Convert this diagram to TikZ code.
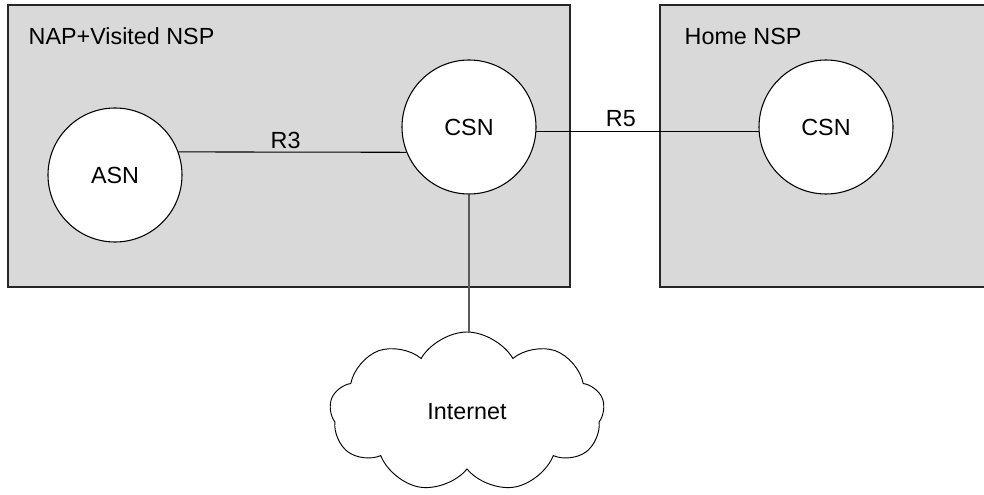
\documentclass[tikz,border=0pt]{standalone}
\usepackage{fontspec}
\setmainfont{Liberation Sans}
\usetikzlibrary{shapes.symbols}
\definecolor{boxgray}{RGB}{217,217,217}
\definecolor{linkgray}{RGB}{90,90,90}
\tikzset{
	nspbox/.style={draw=black!85, line width=1.2pt, fill=boxgray},
	entity/.style={circle, draw, fill=white, line width=0.8pt, minimum size=100.5pt, inner sep=0pt},
	net/.style={cloud, cloud puffs=9, cloud puff arc=120, aspect=1.7, draw, fill=white, line width=0.7pt, minimum width=206pt, minimum height=120pt, inner sep=0pt},
	link/.style={line width=0.8pt}
}
\begin{document}
\begin{tikzpicture}[x=0.75pt,y=-0.75pt,font=\fontsize{17.5}{20}\selectfont]
		\useasboundingbox (0,0) rectangle (984,495);
		% domains
		\draw[nspbox] (8,5) rectangle (570,287);
		\draw[nspbox] (660,5) rectangle (995,287);
		\node (visited)   at (24,36)  [anchor=west] {NAP+Visited NSP};
		\node (home)   at (680,36)  [anchor=west] {Home NSP};
		%
		\node (asn)   at (115,175)  [entity] {ASN};
		\node (csn)   at (469,127)  [entity] {CSN};
		\node (hcsn)   at (826,127)  [entity] {CSN};
		%
		\node (internet)   at (467,412)  [net] {Internet};
		%
		\draw[link] (asn.20) -- (csn.202) node[pos=0.47,above,inner sep=2pt] {R3};
		\draw[link] (csn.-4) -- (hcsn.184) node[pos=0.38,above,inner sep=3pt] {R5};
		\draw[link,draw=linkgray] (csn.south) -- (csn.south |- internet.north);
	\end{tikzpicture}
\end{document}
